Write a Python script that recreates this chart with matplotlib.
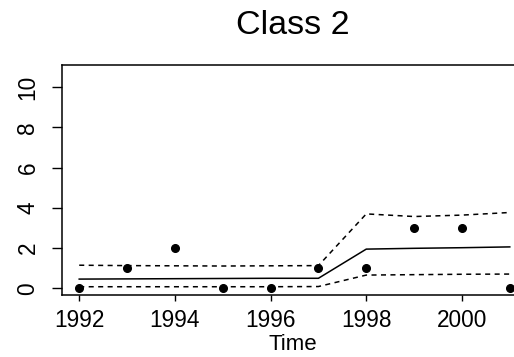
import matplotlib
matplotlib.use("Agg")
import matplotlib.pyplot as plt

plt.rcParams["font.family"] = ["Liberation Sans", "DejaVu Sans"]

# observed counts and fitted mean with bounds
years    = [1992, 1993, 1994, 1995, 1996, 1997, 1998, 1999, 2000, 2001]
observed = [0, 1, 2, 0, 0, 1, 1, 3, 3, 0]
fit      = [0.46, 0.47, 0.48, 0.49, 0.50, 0.50, 1.95, 1.99, 2.02, 2.06]
upper    = [1.15, 1.13, 1.12, 1.11, 1.12, 1.13, 3.70, 3.57, 3.64, 3.77]
lower    = [0.08, 0.08, 0.08, 0.08, 0.08, 0.09, 0.66, 0.68, 0.70, 0.71]

x_ticks = [1992, 1994, 1996, 1998, 2000]
y_ticks = [0, 2, 4, 6, 8, 10]

fig = plt.figure(figsize=(5.14, 3.57), dpi=100)
# right edge of the box falls just outside the picture, as in the reference
ax = fig.add_axes([0.1206, 0.1737, 0.9047, 0.6442])

dash = (0, (3.3, 2.9))
ax.plot(years, observed, "o", color="black", ms=5.5, zorder=3)
ax.plot(years, fit, color="black", lw=1.1)
ax.plot(years, upper, color="black", lw=1.1, linestyle=dash)
ax.plot(years, lower, color="black", lw=1.1, linestyle=dash)

ax.set_xlim(1991.64, 2001.36)
ax.set_ylim(-0.33, 11.1)
ax.set_xticks(x_ticks)
ax.set_yticks(y_ticks)
ax.set_xticklabels([str(v) for v in x_ticks], fontsize=16.3)
ax.set_yticklabels([str(v) for v in y_ticks], fontsize=16.3,
                   rotation=90, va="center")
ax.tick_params(axis="x", length=4.3, width=1.0, pad=6)
ax.tick_params(axis="y", length=7.2, width=1.0, pad=9)
for s in ax.spines.values():
    s.set_linewidth(1.1)

ax.set_xlabel("Time", fontsize=16)
ax.xaxis.set_label_coords(0.497, -0.168)
fig.text(0.57, 0.928, "Class 2", fontsize=24.5, ha="center", va="center")

fig.savefig("out.png", dpi=100)
